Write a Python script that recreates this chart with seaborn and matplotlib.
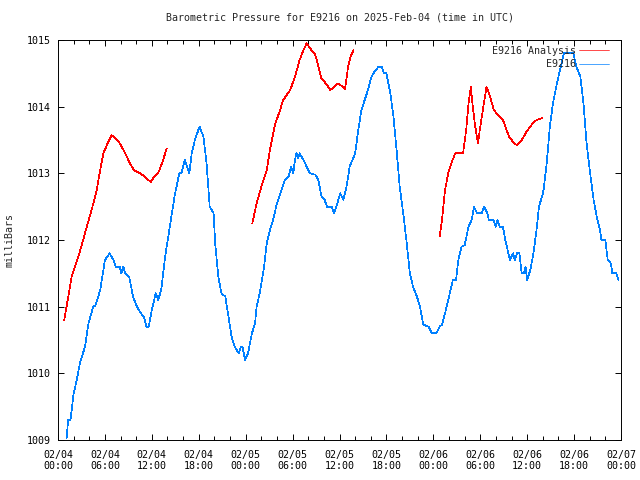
import numpy as np
import pandas as pd
import matplotlib
matplotlib.use("Agg")
import matplotlib.pyplot as plt
import seaborn as sns

# ---------------- data (hours since 2025-02-04 00:00 UTC, millibars) ----------------
station_hours = [1.1, 1.3, 1.6, 2.0, 2.4, 2.8, 3.45, 3.9, 4.5, 4.8, 5.4, 6.0, 6.6, 7.1, 7.4, 7.9,
                 8.1, 8.35, 8.6, 9.1, 9.6, 10.1, 10.6, 11.0, 11.3, 11.6, 12.0, 12.5, 12.8, 13.2,
                 13.7, 14.3, 14.9, 15.5, 15.8, 16.2, 16.8, 17.1, 17.5, 18.1, 18.6, 19.0, 19.4,
                 19.9, 20.1, 20.5, 20.9, 21.4, 21.8, 22.2, 22.6, 23.1, 23.4, 23.6, 23.9, 24.3,
                 24.8, 25.2, 25.4, 25.8, 26.3, 26.7, 27.1, 27.5, 28.0, 28.6, 29.0, 29.5, 29.8,
                 30.1, 30.3, 30.5, 30.7, 30.9, 31.4, 31.8, 32.2, 32.9, 33.3, 33.7, 34.1, 34.4,
                 35.0, 35.3, 35.6, 36.1, 36.5, 36.9, 37.3, 38.0, 38.4, 38.8, 39.5, 40.1, 40.5,
                 41.0, 41.4, 41.7, 42.0, 42.5, 42.9, 43.3, 43.7, 44.2, 44.6, 45.0, 45.4, 45.9,
                 46.3, 46.7, 47.4, 47.8, 48.4, 48.8, 49.1, 49.5, 49.9, 50.3, 50.5, 50.9, 51.2,
                 51.6, 52.0, 52.5, 52.9, 53.2, 53.6, 54.2, 54.5, 54.9, 55.1, 55.7, 56.0, 56.2,
                 56.5, 56.9, 57.2, 57.5, 57.8, 58.2, 58.4, 58.7, 59.0, 59.3, 59.6, 59.8, 60.0,
                 60.4, 60.8, 61.2, 61.5, 61.9, 62.1, 62.5, 62.9, 63.3, 63.8, 64.2, 64.7, 65.3,
                 65.9, 66.3, 66.8, 67.2, 67.6, 68.0, 68.5, 68.9, 69.3, 69.5, 70.0, 70.3, 70.7,
                 70.9, 71.4, 71.7]
station_mb = [1009.03, 1009.3, 1009.3, 1009.7, 1009.9, 1010.15, 1010.4, 1010.75, 1011.0, 1011.02,
              1011.25, 1011.7, 1011.8, 1011.7, 1011.6, 1011.6, 1011.5, 1011.6, 1011.5, 1011.45,
              1011.15, 1011.0, 1010.9, 1010.85, 1010.7, 1010.7, 1010.95, 1011.2, 1011.1, 1011.25,
              1011.75, 1012.2, 1012.65, 1013.0, 1013.0, 1013.2, 1013.0, 1013.3, 1013.5, 1013.7,
              1013.55, 1013.15, 1012.5, 1012.4, 1011.95, 1011.45, 1011.2, 1011.15, 1010.85,
              1010.55, 1010.4, 1010.3, 1010.4, 1010.4, 1010.2, 1010.3, 1010.6, 1010.75, 1011.0,
              1011.2, 1011.55, 1011.95, 1012.15, 1012.3, 1012.55, 1012.75, 1012.9, 1012.95,
              1013.1, 1013.0, 1013.2, 1013.3, 1013.23, 1013.3, 1013.2, 1013.1, 1013.0, 1012.98,
              1012.9, 1012.65, 1012.6, 1012.5, 1012.5, 1012.4, 1012.5, 1012.7, 1012.6, 1012.8,
              1013.1, 1013.3, 1013.65, 1013.95, 1014.2, 1014.45, 1014.53, 1014.6, 1014.6, 1014.5,
              1014.5, 1014.2, 1013.85, 1013.35, 1012.8, 1012.35, 1011.95, 1011.5, 1011.3,
              1011.15, 1011.0, 1010.73, 1010.7, 1010.6, 1010.6, 1010.7, 1010.73, 1010.9, 1011.1,
              1011.3, 1011.4, 1011.4, 1011.7, 1011.9, 1011.92, 1012.2, 1012.3, 1012.5, 1012.4,
              1012.4, 1012.5, 1012.4, 1012.3, 1012.3, 1012.2, 1012.3, 1012.2, 1012.2, 1012.0,
              1011.85, 1011.7, 1011.8, 1011.7, 1011.8, 1011.8, 1011.5, 1011.5, 1011.6, 1011.4,
              1011.55, 1011.8, 1012.15, 1012.5, 1012.65, 1012.75, 1013.15, 1013.7, 1014.05,
              1014.35, 1014.55, 1014.8, 1014.8, 1014.8, 1014.6, 1014.45, 1014.05, 1013.45,
              1013.05, 1012.6, 1012.35, 1012.15, 1012.0, 1012.0, 1011.7, 1011.65, 1011.5,
              1011.5, 1011.4]

analysis_seg1_hours = [0.8, 1.75, 2.6, 3.45, 4.3, 4.95, 5.4, 5.8, 6.35, 6.85, 7.3, 7.8, 8.6, 9.2,
                       9.7, 10.5, 11.1, 11.85, 12.3, 12.8, 13.3, 13.9]
analysis_seg1_mb = [1010.8, 1011.45, 1011.75, 1012.1, 1012.45, 1012.75, 1013.05, 1013.3, 1013.45,
                    1013.57, 1013.53, 1013.47, 1013.3, 1013.15, 1013.05, 1013.0, 1012.95,
                    1012.87, 1012.95, 1013.0, 1013.15, 1013.37]
analysis_seg2_hours = [24.85, 25.4, 26.0, 26.7, 27.1, 27.75, 28.4, 28.8, 29.7, 30.3, 30.9, 31.4,
                       31.8, 32.2, 32.9, 33.3, 33.7, 34.4, 34.8, 35.4, 35.8, 36.3, 36.7, 37.1,
                       37.4, 37.8]
analysis_seg2_mb = [1012.25, 1012.55, 1012.8, 1013.05, 1013.35, 1013.73, 1013.95, 1014.1, 1014.25,
                    1014.45, 1014.7, 1014.85, 1014.95, 1014.88, 1014.78, 1014.6, 1014.42,
                    1014.33, 1014.25, 1014.3, 1014.35, 1014.31, 1014.26, 1014.6, 1014.75,
                    1014.85]
analysis_seg3_hours = [48.8, 49.1, 49.5, 49.9, 50.3, 50.8, 51.3, 51.8, 52.2, 52.5, 52.8, 53.0,
                       53.3, 53.5, 53.7, 54.0, 54.4, 54.8, 55.2, 55.75, 56.3, 56.9, 57.3, 57.7,
                       58.2, 58.7, 59.3, 59.9, 60.7, 61.2, 61.9]
analysis_seg3_mb = [1012.05, 1012.3, 1012.75, 1013.0, 1013.15, 1013.3, 1013.3, 1013.3, 1013.65,
                    1014.05, 1014.3, 1014.05, 1013.75, 1013.6, 1013.45, 1013.7, 1014.0, 1014.3,
                    1014.17, 1013.95, 1013.87, 1013.8, 1013.67, 1013.55, 1013.47, 1013.42,
                    1013.5, 1013.62, 1013.75, 1013.8, 1013.83]

tick_hours = [0, 6, 12, 18, 24, 30, 36, 42, 48, 54, 60, 66, 72]
tick_labels = ["02/04\n00:00", "02/04\n06:00", "02/04\n12:00", "02/04\n18:00",
               "02/05\n00:00", "02/05\n06:00", "02/05\n12:00", "02/05\n18:00",
               "02/06\n00:00", "02/06\n06:00", "02/06\n12:00", "02/06\n18:00",
               "02/07\n00:00"]
y_ticks = [1009, 1010, 1011, 1012, 1013, 1014, 1015]

series_names = ["E9216 Analysis", "E9216"]
title_text = "Barometric Pressure for E9216 on 2025-Feb-04 (time in UTC)"
y_label = "milliBars"

# ---------------- build tables ----------------
station_df = pd.DataFrame({"hour": station_hours, "mb": station_mb})
analysis_df = pd.concat([
    pd.DataFrame({"hour": analysis_seg1_hours, "mb": analysis_seg1_mb, "seg": 1}),
    pd.DataFrame({"hour": analysis_seg2_hours, "mb": analysis_seg2_mb, "seg": 2}),
    pd.DataFrame({"hour": analysis_seg3_hours, "mb": analysis_seg3_mb, "seg": 3}),
], ignore_index=True)

# ---------------- style ----------------
sns.set_theme(style="ticks")
plt.rcParams["font.family"] = ["DejaVu Sans Mono", "DejaVu Sans"]
FS = 7.2
RED = "#ff0000"
BLUE = "#0080ff"

fig = plt.figure(figsize=(6.4, 4.8), dpi=100)
ax = fig.add_axes([58 / 640, 40 / 480, 563 / 640, 400 / 480])
fig.patch.set_facecolor("white")
ax.set_facecolor("white")

lw = 0.5
sns.lineplot(data=analysis_df, x="hour", y="mb", units="seg", estimator=None,
             color=RED, lw=lw, ax=ax, sort=False, antialiased=False)
sns.lineplot(data=station_df, x="hour", y="mb", estimator=None,
             color=BLUE, lw=lw, ax=ax, sort=False, antialiased=False)

ax.set_xlim(0, 72)
ax.set_ylim(1009, 1015)
ax.set_xticks(tick_hours)
ax.set_xticklabels(tick_labels, fontsize=FS)
ax.set_xticks(np.arange(0, 73, 2), minor=True)
ax.set_yticks(y_ticks)
ax.set_yticklabels([str(v) for v in y_ticks], fontsize=FS)

ax.tick_params(axis="both", which="both", direction="in", top=True, right=True,
               colors="black", width=0.7)
ax.tick_params(axis="both", which="major", length=4.5)
ax.tick_params(axis="x", which="minor", length=3)
ax.tick_params(axis="x", which="major", pad=7)
ax.tick_params(axis="y", which="major", pad=5)

for sp in ax.spines.values():
    sp.set_visible(True)
    sp.set_color("black")
    sp.set_linewidth(0.7)

ax.set_xlabel("")
ax.set_ylabel(y_label, fontsize=FS, labelpad=9)
ax.set_title(title_text, fontsize=FS, pad=14)
ax.grid(False)

handles = [plt.Line2D([], [], color=RED, lw=lw), plt.Line2D([], [], color=BLUE, lw=lw)]
ax.legend(handles, series_names, loc="upper right", bbox_to_anchor=(1 - 6 / 563, 1.0),
          frameon=False, markerfirst=False,
          fontsize=FS, handlelength=3.0, handletextpad=0.3, labelspacing=0.35,
          borderaxespad=0.4, borderpad=0.2)

fig.savefig("out.png", dpi=100, facecolor="white")
